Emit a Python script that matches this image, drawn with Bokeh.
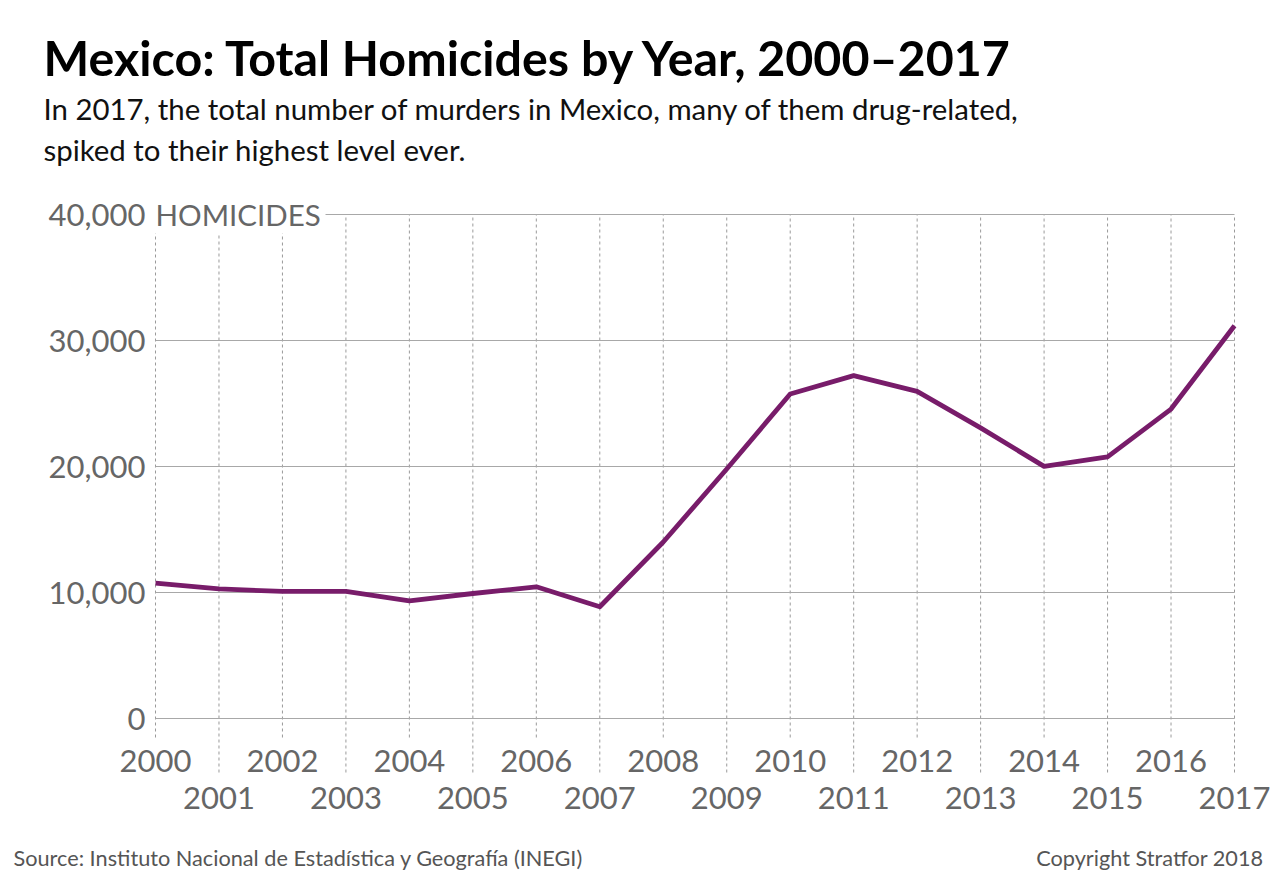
from bokeh.plotting import figure
from bokeh.models import Range1d
from bokeh.core.properties import value
from bokeh.embed import file_html
from bokeh.resources import INLINE

# ---- data ----
YEARS = list(range(2000, 2018))
HOMICIDES = [10737, 10285, 10088, 10087, 9329, 9921, 10452, 8867, 14006,
             19803, 25757, 27213, 25967, 23063, 20010, 20762, 24559, 31174]
Y_TICKS = [0, 10000, 20000, 30000, 40000]
Y_TICK_LABELS = ["0", "10,000", "20,000", "30,000", "40,000"]
TITLE = "Mexico: Total Homicides by Year, 2000–2017"
SUBTITLE = ["In 2017, the total number of murders in Mexico, many of them drug-related,",
            "spiked to their highest level ever."]
UNIT = "HOMICIDES"
SOURCE = "Source: Instituto Nacional de Estadística y Geografía (INEGI)"
COPYRIGHT = "Copyright Stratfor 2018"

# ---- layout constants (pixels) ----
W, H = 1280, 889
X_LEFT_PX, X_RIGHT_PX = 155, 1234
Y0_PX, YTOP_PX = 718, 214
PPX = (X_RIGHT_PX - X_LEFT_PX) / (YEARS[-1] - YEARS[0])
PPY = (Y0_PX - YTOP_PX) / Y_TICKS[-1]


def dx(px):
    return YEARS[0] + (px - X_LEFT_PX) / PPX


def dy(py):
    return (Y0_PX - py) / PPY


FONT = value("Lato")
GRAY = "#666666"
PURPLE = "#781c6a"

p = figure(width=W, height=H, output_backend="svg", toolbar_location=None,
           x_range=Range1d(dx(0), dx(W)), y_range=Range1d(dy(H), dy(0)),
           x_axis_location=None, y_axis_location=None, min_border=0,
           outline_line_color=None, background_fill_color="white",
           border_fill_color="white")
p.grid.visible = False

# vertical dotted year lines
bottoms = [dy(737) if (yr - YEARS[0]) % 2 == 0 else dy(772) for yr in YEARS]
p.segment(x0=YEARS, y0=bottoms, x1=YEARS, y1=[Y_TICKS[-1]] * len(YEARS),
          line_color="#9a9a9a", line_width=1, line_dash="3 3")

# horizontal gridlines
p.segment(x0=[YEARS[0]] * len(Y_TICKS), y0=Y_TICKS,
          x1=[YEARS[-1]] * len(Y_TICKS), y1=Y_TICKS,
          line_color="#a8a8a8", line_width=1.2)

# white box behind the unit label
p.quad(left=dx(40), right=dx(325), bottom=dy(233), top=dy(195),
       fill_color="white", line_color=None)

# data line
p.line(YEARS, HOMICIDES, line_color=PURPLE, line_width=4.8,
       line_join="round", line_cap="butt")

# y tick labels
p.text(x=[dx(145)] * len(Y_TICKS), y=Y_TICKS, text=Y_TICK_LABELS,
       text_font=FONT, text_font_size="31px", text_color=GRAY,
       text_align="right", text_baseline="middle")
p.text(x=[dx(155)], y=[Y_TICKS[-1]], text=[UNIT],
       text_font=FONT, text_font_size="29.5px", text_color=GRAY,
       text_align="left", text_baseline="middle")

# x labels (staggered)
even = [yr for yr in YEARS if (yr - YEARS[0]) % 2 == 0]
odd = [yr for yr in YEARS if (yr - YEARS[0]) % 2 == 1]
p.text(x=even, y=[dy(760)] * len(even), text=[str(v) for v in even],
       text_font=FONT, text_font_size="31px", text_color=GRAY,
       text_align="center", text_baseline="middle")
p.text(x=odd, y=[dy(797)] * len(odd), text=[str(v) for v in odd],
       text_font=FONT, text_font_size="31px", text_color=GRAY,
       text_align="center", text_baseline="middle")

# title & subtitle
p.text(x=[dx(43)], y=[dy(56)], text=[TITLE], text_font=FONT,
       text_font_size="48.4px", text_font_style="bold", text_color="black",
       text_align="left", text_baseline="middle")
p.text(x=[dx(43)] * 2, y=[dy(108), dy(149)], text=SUBTITLE, text_font=FONT,
       text_font_size="29.4px", text_color="#111111",
       text_align="left", text_baseline="middle")

# footer
p.text(x=[dx(13)], y=[dy(857)], text=[SOURCE], text_font=FONT,
       text_font_size="21.7px", text_color="#555555",
       text_align="left", text_baseline="middle")
p.text(x=[dx(1263)], y=[dy(857)], text=[COPYRIGHT], text_font=FONT,
       text_font_size="21.7px", text_color="#555555",
       text_align="right", text_baseline="middle")

open("out.html", "w").write(file_html(p, INLINE))
